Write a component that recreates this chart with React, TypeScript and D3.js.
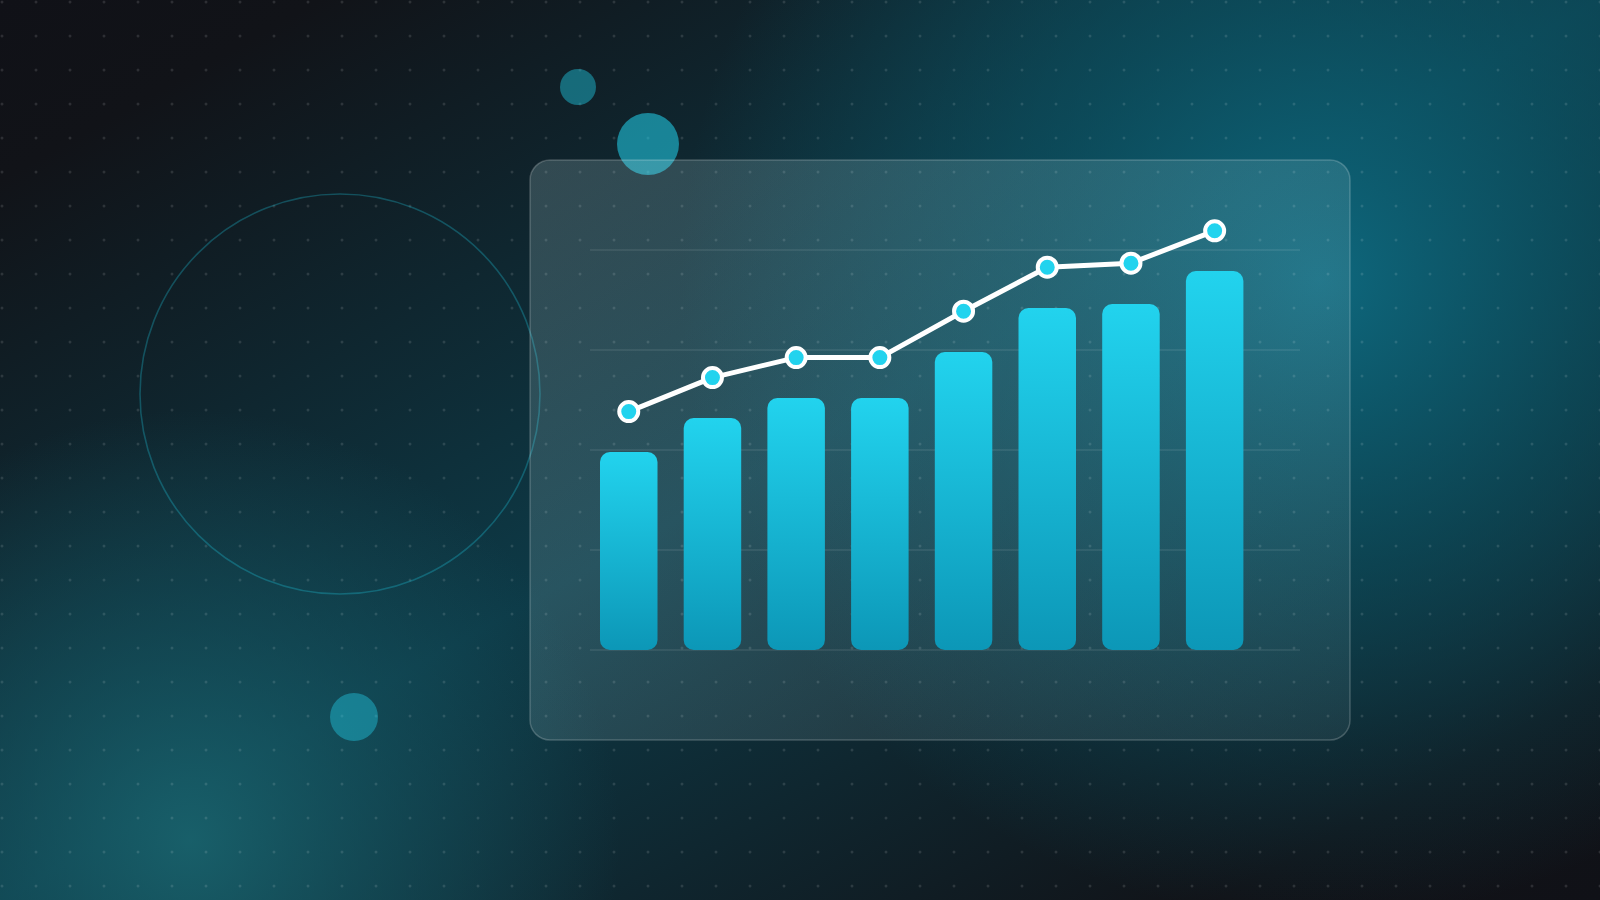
import React from "react";
import * as d3 from "d3";

const categories = ["P1", "P2", "P3", "P4", "P5", "P6", "P7", "P8"];
const barValues = [49.5, 58, 63, 63, 74.5, 85.5, 86.5, 94.75];
const lineValues = [59.6, 68.1, 73.1, 73.1, 84.7, 95.7, 96.7, 104.8];
const gridTicks = [0, 25, 50, 75, 100];

const W = 1600;
const H = 900;

export default function App() {
  const x = d3
    .scaleBand<string>()
    .domain(categories)
    .range([600, 600 + 83.7 * (categories.length - 0.313)])
    .paddingInner(0.313)
    .paddingOuter(0);
  const y = d3.scaleLinear().domain([0, 100]).range([650, 250]);

  const line = d3
    .line<number>()
    .x((_, i) => (x(categories[i]) as number) + x.bandwidth() / 2)
    .y((d) => y(d));

  const dots: { cx: number; cy: number }[] = [];
  for (let gx = 2; gx <= W; gx += 34) {
    for (let gy = 2; gy <= H; gy += 34) {
      dots.push({ cx: gx, cy: gy });
    }
  }

  return (
    <div style={{ position: "fixed", left: 0, top: 0, width: W, height: H }}>
      <svg width={W} height={H} style={{ display: "block" }}>
        <defs>
          <linearGradient id="bgLin" x1="0" y1="0" x2="1" y2="1" gradientUnits="objectBoundingBox">
            <stop offset="0" stopColor="#101117" />
            <stop offset="0.1" stopColor="#111318" />
            <stop offset="0.5" stopColor="#0d3a47" />
            <stop offset="0.88" stopColor="#111318" />
            <stop offset="1" stopColor="#101117" />
          </linearGradient>
          <radialGradient id="glowR" cx="1320" cy="280" r="640" gradientUnits="userSpaceOnUse">
            <stop offset="0" stopColor="#0e6a80" stopOpacity="0.95" />
            <stop offset="0.45" stopColor="#0b5a6c" stopOpacity="0.6" />
            <stop offset="1" stopColor="#0b5a6c" stopOpacity="0" />
          </radialGradient>
          <radialGradient id="glowL" cx="190" cy="840" r="430" gradientUnits="userSpaceOnUse">
            <stop offset="0" stopColor="#1a6670" stopOpacity="0.85" />
            <stop offset="0.55" stopColor="#165864" stopOpacity="0.45" />
            <stop offset="1" stopColor="#165864" stopOpacity="0" />
          </radialGradient>
          <linearGradient id="cardFill" x1="0" y1="0" x2="1" y2="1">
            <stop offset="0" stopColor="#c8f0f6" stopOpacity="0.19" />
            <stop offset="0.5" stopColor="#c8f0f6" stopOpacity="0.13" />
            <stop offset="1" stopColor="#c8f0f6" stopOpacity="0.07" />
          </linearGradient>
          <linearGradient id="barFill" x1="0" y1="0" x2="0" y2="1">
            <stop offset="0" stopColor="#22d3ee" />
            <stop offset="1" stopColor="#0c97b7" />
          </linearGradient>
        </defs>

        <rect x={0} y={0} width={W} height={H} fill="url(#bgLin)" />
        <rect x={0} y={0} width={W} height={H} fill="url(#glowR)" />
        <rect x={0} y={0} width={W} height={H} fill="url(#glowL)" />

        <g fill="#ffffff" fillOpacity={0.12}>
          {dots.map((d, i) => (
            <circle key={i} cx={d.cx} cy={d.cy} r={1.5} />
          ))}
        </g>

        <circle cx={340} cy={394} r={200} fill="none" stroke="#22d3ee" strokeOpacity={0.28} strokeWidth={1.6} />
        <circle cx={578} cy={87} r={18} fill="#22d3ee" fillOpacity={0.42} />
        <circle cx={648} cy={144} r={31} fill="#22d3ee" fillOpacity={0.55} />
        <circle cx={354} cy={717} r={24} fill="#22d3ee" fillOpacity={0.4} />

        <rect
          x={530}
          y={160}
          width={820}
          height={580}
          rx={20}
          fill="url(#cardFill)"
          stroke="#ffffff"
          strokeOpacity={0.2}
          strokeWidth={1.5}
        />

        <g stroke="#ffffff" strokeOpacity={0.15} strokeWidth={1.2}>
          {gridTicks.map((t) => (
            <line key={t} x1={590} x2={1300} y1={y(t)} y2={y(t)} />
          ))}
        </g>

        <g>
          {barValues.map((v, i) => (
            <rect
              key={categories[i]}
              x={x(categories[i]) as number}
              y={y(v)}
              width={x.bandwidth()}
              height={y(0) - y(v)}
              rx={10}
              fill="url(#barFill)"
            />
          ))}
        </g>

        <path
          d={line(lineValues) || ""}
          fill="none"
          stroke="#ffffff"
          strokeWidth={5}
          strokeLinejoin="round"
          strokeLinecap="round"
        />
        <g>
          {lineValues.map((v, i) => (
            <circle
              key={categories[i]}
              cx={(x(categories[i]) as number) + x.bandwidth() / 2}
              cy={y(v)}
              r={9.5}
              fill="#22d3ee"
              stroke="#ffffff"
              strokeWidth={4}
            />
          ))}
        </g>
      </svg>
    </div>
  );
}
